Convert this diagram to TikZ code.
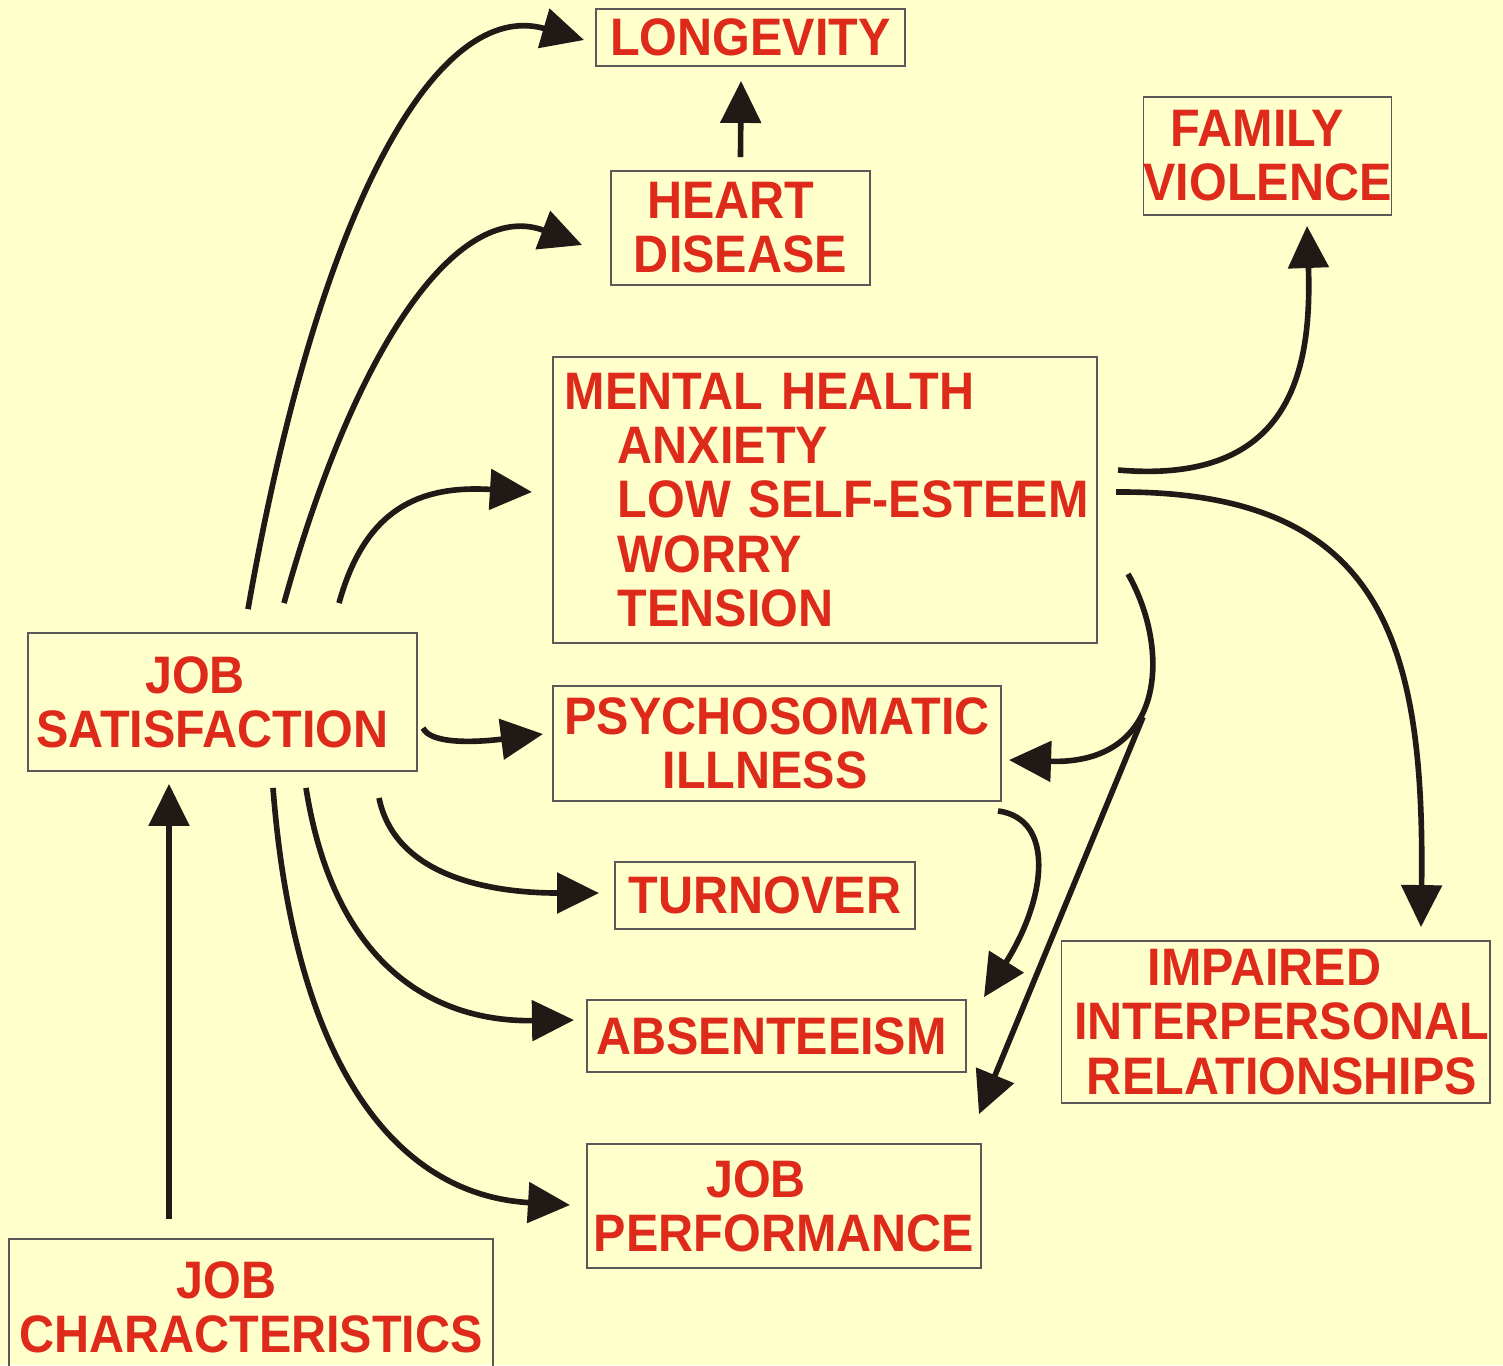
\documentclass[tikz,border=0pt]{standalone}
\usepackage{fontspec}
\setmainfont{Liberation Sans}[FakeStretch=0.92]
\usetikzlibrary{arrows.meta}

\definecolor{paper}{HTML}{FFFFCC}
\definecolor{boxred}{HTML}{DD2A1B}
\definecolor{ink}{HTML}{201A17}

\tikzset{
	box/.style = {draw = black!65, line width = 0.5pt, inner sep = 0pt, align = center,
		text = boxred, font = \fontsize{15}{15.4}\selectfont\bfseries},
	arr/.style = {draw = ink, line width = 1.6pt, -{Triangle[length=0.42cm, width=0.4cm]}},
}

\begin{document}
\begin{tikzpicture}[x = 0.01cm, y = -0.01cm]

	% page
	\fill[paper] (0,0) rectangle (1503,1365);
	\useasboundingbox (0,0) rectangle (1503,1365);

	% boxes
	\node[box, minimum width = 3.09cm, minimum height = 0.57cm] (long) at (750.5,37.5) {LONGEVITY};
	\node[box, minimum width = 2.59cm, minimum height = 1.14cm] (heart) at (740.5,228) {HEART\hspace*{0.19cm}\\DISEASE};
	\node[box, minimum width = 2.43cm, minimum height = 1.18cm] (family) at (1267.5,156) {FAMILY\hspace*{0.2cm}\\VIOLENCE};
	\node[box, align = left, text width = 5.2cm, inner sep = 0.12cm, minimum height = 2.86cm] (mental) at (825,500)
		{MENTAL HEALTH\\\hspace*{0.53cm}ANXIETY\\\hspace*{0.53cm}\mbox{LOW SELF-ESTEEM}\\\hspace*{0.53cm}WORRY\\\hspace*{0.53cm}TENSION};
	\node[box, minimum width = 4.48cm, minimum height = 1.15cm] (psycho) at (777,743.5) {PSYCHOSOMATIC\\ILLNESS\hspace*{0.24cm}};
	\node[box, minimum width = 3.89cm, minimum height = 1.38cm] (sat) at (222.5,702) {JOB\hspace*{0.55cm}\\SATISFACTION\hspace*{0.2cm}};
	\node[box, minimum width = 3.0cm, minimum height = 0.67cm] (turn) at (765,895.5) {TURNOVER};
	\node[box, minimum width = 3.79cm, minimum height = 0.72cm] (absent) at (776.5,1036) {ABSENTEEISM\hspace*{0.1cm}};
	\node[box, minimum width = 3.94cm, minimum height = 1.24cm] (perf) at (784,1206) {JOB\hspace*{0.56cm}\\PERFORMANCE};
	\node[box, minimum width = 4.84cm, minimum height = 1.36cm] (chars) at (251,1307) {JOB\hspace*{0.49cm}\\CHARACTERISTICS};
	\node[box, minimum width = 4.27cm, minimum height = 1.62cm] (impair) at (1275.5,1022)
		{IMPAIRED\hspace*{0.22cm}\\\hspace*{0.13cm}INTERPERSONAL\\\hspace*{0.13cm}RELATIONSHIPS};

	% job characteristics and heart disease
	\draw[arr] ([shift = {(-82,-19)}]chars.north) -- ([shift = {(-53.5,12)}]sat.south);
	\draw[arr] ([shift = {(0,-13)}]heart.north) -- ([shift = {(-9.5,14)}]long.south);

	% arrows out of job satisfaction
	\draw[arr] ([shift = {(25.5,-23)}]sat.north) .. controls +(72,-410) and +(-145,-42) .. ([shift = {(-11,2.5)}]long.west);
	\draw[arr] ([shift = {(61.5,-29)}]sat.north) .. controls +(76,-274) and +(-118,-45) .. ([shift = {(-28,17)}]heart.west);
	\draw[arr] ([shift = {(116.5,-29)}]sat.north) .. controls +(26,-94) and +(-113,-7) .. ([shift = {(-20,-8)}]mental.west);
	\draw[arr] ([shift = {(5,26)}]sat.east) .. controls +(8,17) and +(-64,8) .. ([shift = {(-9,-9.5)}]psycho.west);
	\draw[arr] ([shift = {(156.5,26)}]sat.south) .. controls +(16,78) and +(-110,0) .. ([shift = {(-15,-2.5)}]turn.west);
	\draw[arr] ([shift = {(83.5,16)}]sat.south) .. controls +(29,183) and +(-135,2) .. ([shift = {(-12,-16)}]absent.west);
	\draw[arr] ([shift = {(50.5,16)}]sat.south) .. controls +(22,283) and +(-171,-10) .. ([shift = {(-16,-1)}]perf.west);

	% arrows out of mental health
	\draw[arr] ([shift = {(20,-30)}]mental.east) .. controls +(173,15) and +(5,145) .. ([shift = {(39.5,10)}]family.south);
	\draw[arr] ([shift = {(18,-8)}]mental.east) .. controls +(265,-2) and +(4,-288) .. ([shift = {(145.5,-13)}]impair.north);
	\draw[arr] ([shift = {(30,74)}]mental.east) .. controls +(43,76) and +(157,5) .. ([shift = {(7,16.5)}]psycho.east);
	\draw[arr] ([shift = {(45,73)}]mental.south east) -- ([shift = {(-3,-29)}]perf.north east);

	% psychosomatic illness
	\draw[arr] ([shift = {(-4,9)}]psycho.south east) .. controls +(58,8) and +(62,-98) .. ([shift = {(17,-2)}]absent.north east);

\end{tikzpicture}
\end{document}
